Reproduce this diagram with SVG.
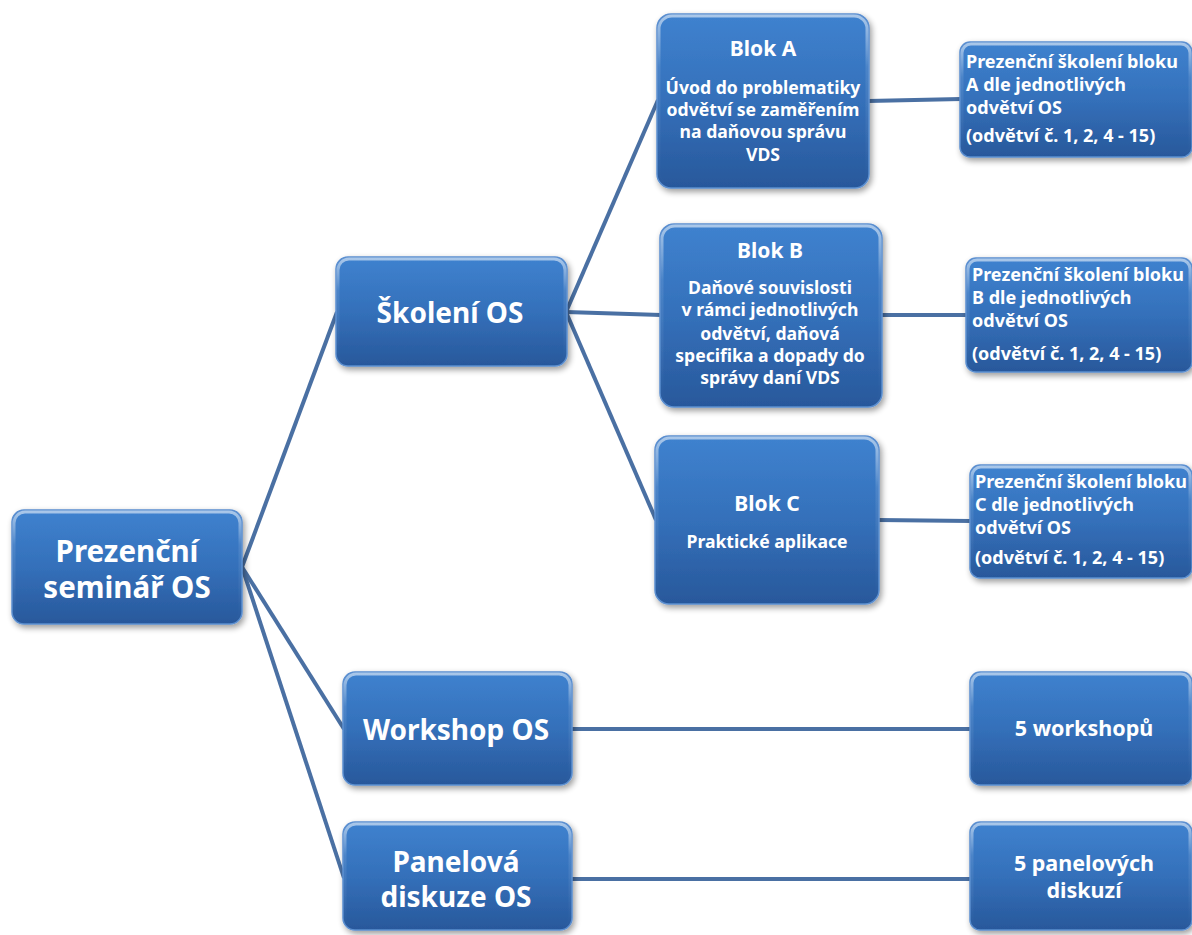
<svg xmlns="http://www.w3.org/2000/svg" width="1192" height="935" viewBox="0 0 1192 935">
<defs>
<linearGradient id="g" x1="0" y1="0" x2="0" y2="1">
<stop offset="0" stop-color="#3f82cf"/>
<stop offset="0.5" stop-color="#3470ba"/>
<stop offset="1" stop-color="#28589b"/>
</linearGradient>
<linearGradient id="hl" x1="0" y1="0" x2="0" y2="1">
<stop offset="0" stop-color="#ffffff" stop-opacity="0.55"/>
<stop offset="0.3" stop-color="#ffffff" stop-opacity="0.1"/>
<stop offset="1" stop-color="#ffffff" stop-opacity="0"/>
</linearGradient>
<filter id="sh" x="-10%" y="-10%" width="125%" height="130%">
<feGaussianBlur in="SourceAlpha" stdDeviation="3"/>
<feOffset dx="2" dy="3"/>
<feComponentTransfer><feFuncA type="linear" slope="0.4"/></feComponentTransfer>
<feMerge><feMergeNode/><feMergeNode in="SourceGraphic"/></feMerge>
</filter>
</defs>
<style>
.box{fill:url(#g);stroke:#5b8fd0;stroke-width:1.5;filter:url(#sh)}
.hi{fill:none;stroke:url(#hl);stroke-width:3}
text{font-family:"Noto Sans","DejaVu Sans",sans-serif;font-weight:bold;fill:#ffffff}
.c{text-anchor:middle}
.big{font-size:29.5px}
.mid{font-size:28px}
.ttl{font-size:21px}
.sm{font-size:17.6px}
.rs{font-size:18px}
.r19{font-size:21.5px}
.con{stroke:#4a70a3;stroke-width:4;fill:none}
</style>
<rect width="1192" height="935" fill="#ffffff"/>
<g id="connectors">
<line class="con" x1="242" y1="567" x2="337" y2="312"/>
<line class="con" x1="242" y1="567" x2="344" y2="729"/>
<line class="con" x1="242" y1="567" x2="344" y2="878"/>
<line class="con" x1="566" y1="312" x2="658" y2="100"/>
<line class="con" x1="566" y1="312" x2="661" y2="315"/>
<line class="con" x1="566" y1="312" x2="656" y2="520"/>
<line class="con" x1="868" y1="101" x2="961" y2="99"/>
<line class="con" x1="881" y1="315" x2="967" y2="315"/>
<line class="con" x1="878" y1="520" x2="971" y2="521"/>
<line class="con" x1="571" y1="729" x2="971" y2="729"/>
<line class="con" x1="571" y1="879" x2="971" y2="879"/>
</g>
<g id="root">
<rect class="box" x="12" y="510" width="230" height="114" rx="12"/>
<rect class="hi" x="14" y="512" width="226" height="110" rx="11"/>
<text class="c big" x="127" y="562">Prezenční</text>
<text class="c big" x="127" y="598">seminář OS</text>
</g>
<g id="skoleni">
<rect class="box" x="336" y="257" width="231" height="109" rx="12"/>
<rect class="hi" x="338" y="259" width="227" height="105" rx="11"/>
<text class="c mid" x="450" y="323">Školení OS</text>
</g>
<g id="workshop">
<rect class="box" x="343" y="672" width="229" height="113" rx="12"/>
<rect class="hi" x="345" y="674" width="225" height="109" rx="11"/>
<text class="c mid" x="456" y="740">Workshop OS</text>
</g>
<g id="panel">
<rect class="box" x="343" y="822" width="229" height="108" rx="12"/>
<rect class="hi" x="345" y="824" width="225" height="104" rx="11"/>
<text class="c mid" x="456" y="872">Panelová</text>
<text class="c mid" x="456" y="907">diskuze OS</text>
</g>
<g id="blokA">
<rect class="box" x="657" y="14" width="212" height="174" rx="14"/>
<rect class="hi" x="659" y="16" width="208" height="170" rx="13"/>
<text class="c ttl" x="763" y="56">Blok A</text>
<text class="c sm" x="763" y="94">Úvod do problematiky</text>
<text class="c sm" x="763" y="116">odvětví se zaměřením</text>
<text class="c sm" x="763" y="138">na daňovou správu</text>
<text class="c sm" x="763" y="161">VDS</text>
</g>
<g id="blokB">
<rect class="box" x="660" y="224" width="222" height="183" rx="14"/>
<rect class="hi" x="662" y="226" width="218" height="179" rx="13"/>
<text class="c ttl" x="770" y="258">Blok B</text>
<text class="c sm" x="770" y="294">Daňové souvislosti</text>
<text class="c sm" x="770" y="316">v rámci jednotlivých</text>
<text class="c sm" x="770" y="340">odvětví, daňová</text>
<text class="c sm" x="770" y="362">specifika a dopady do</text>
<text class="c sm" x="770" y="384">správy daní VDS</text>
</g>
<g id="blokC">
<rect class="box" x="655" y="436" width="224" height="168" rx="14"/>
<rect class="hi" x="657" y="438" width="220" height="164" rx="13"/>
<text class="c ttl" x="767" y="511">Blok C</text>
<text class="c sm" x="767" y="548">Praktické aplikace</text>
</g>
<g id="prezA">
<rect class="box" x="960" y="42" width="232" height="115" rx="10"/>
<rect class="hi" x="962" y="44" width="228" height="111" rx="9"/>
<text class="rs" x="966" y="68">Prezenční školení bloku</text>
<text class="rs" x="966" y="91">A dle jednotlivých</text>
<text class="rs" x="966" y="114">odvětví OS</text>
<text class="rs" x="966" y="142">(odvětví č. 1, 2, 4 - 15)</text>
</g>
<g id="prezB">
<rect class="box" x="966" y="258" width="226" height="114" rx="10"/>
<rect class="hi" x="968" y="260" width="222" height="110" rx="9"/>
<text class="rs" x="972" y="281">Prezenční školení bloku</text>
<text class="rs" x="972" y="304">B dle jednotlivých</text>
<text class="rs" x="972" y="327">odvětví OS</text>
<text class="rs" x="972" y="360">(odvětví č. 1, 2, 4 - 15)</text>
</g>
<g id="prezC">
<rect class="box" x="970" y="465" width="222" height="113" rx="10"/>
<rect class="hi" x="972" y="467" width="218" height="109" rx="9"/>
<text class="rs" x="975" y="488">Prezenční školení bloku</text>
<text class="rs" x="975" y="511">C dle jednotlivých</text>
<text class="rs" x="975" y="534">odvětví OS</text>
<text class="rs" x="975" y="564">(odvětví č. 1, 2, 4 - 15)</text>
</g>
<g id="workshopy">
<rect class="box" x="970" y="672" width="222" height="113" rx="10"/>
<rect class="hi" x="972" y="674" width="218" height="109" rx="9"/>
<text class="c r19" x="1084" y="736">5 workshopů</text>
</g>
<g id="diskuze">
<rect class="box" x="970" y="822" width="222" height="108" rx="10"/>
<rect class="hi" x="972" y="824" width="218" height="104" rx="9"/>
<text class="c r19" x="1084" y="871">5 panelových</text>
<text class="c r19" x="1084" y="898">diskuzí</text>
</g>
</svg>
